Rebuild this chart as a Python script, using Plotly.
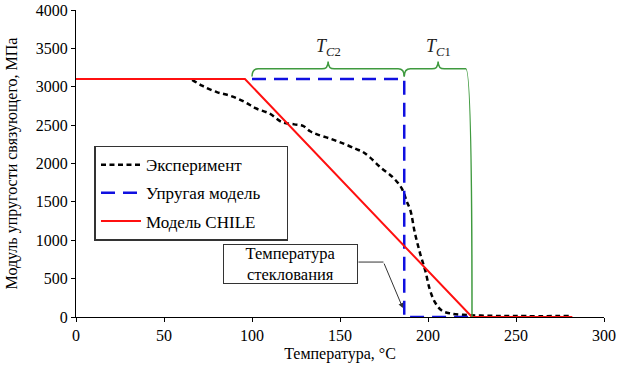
import plotly.graph_objects as go

exp_x = [66, 72, 80, 88, 96, 102, 110, 117, 124, 129, 133, 137, 145, 153, 159, 163, 167,
         173, 180, 185, 188, 190, 192.5, 195.5, 198.5, 201, 204, 208, 213, 220, 230, 250, 282]
exp_y = [3090, 3010, 2930, 2880, 2800, 2720, 2650, 2540, 2510, 2490, 2420, 2380, 2320, 2250,
         2190, 2150, 2080, 1950, 1820, 1680, 1500, 1390, 1100, 830, 600, 360, 190, 80, 45, 28,
         18, 12, 12]

# Elastic model
el_x = [100, 186.5, 186.5, 225]
el_y = [3100, 3100, 0, 0]

# CHILE model
ch_x = [0, 96, 225, 282]
ch_y = [3100, 3100, 0, 0]

# Brace positions (T_C2, T_C1)
tc2 = [100, 186.5]
tc1 = [186.5, 225]

FONT = "Liberation Serif"
GREEN = "#3f9a3f"
PAD = "\u00a0" * 5  # extra room at the right of the legend box

fig = go.Figure()
fig.add_trace(go.Scatter(x=exp_x, y=exp_y, mode="lines", name="Эксперимент",
                         legendgroup="a", line=dict(color="black", width=2.5, dash="5px,3.5px"),
                         line_shape="spline"))
fig.add_trace(go.Scatter(x=el_x, y=el_y, mode="lines", name="Упругая модель" + PAD,
                         legendgroup="b", line=dict(color="#1010e0", width=2.5, dash="14px,8px")))
fig.add_trace(go.Scatter(x=ch_x, y=ch_y, mode="lines", name="Модель CHILE",
                         legendgroup="c", line=dict(color="#ff1010", width=2)))

yb, ye, yt = 3233, 3133, 3330
r = 3.5
def brace(x1, x2, yend_left, yend_right):
    xm = (x1 + x2) / 2
    return (f"M {x1},{yend_left} Q {x1},{yb} {x1+r},{yb} L {xm-r},{yb} "
            f"Q {xm},{yb} {xm},{yt} Q {xm},{yb} {xm+r},{yb} L {x2-r},{yb} "
            f"Q {x2},{yb} {x2},{yend_right}")

shapes = [
    dict(type="path", xref="x", yref="y", path=brace(tc2[0], tc2[1], ye, ye),
         line=dict(color=GREEN, width=1.5)),
    dict(type="path", xref="x", yref="y", path=brace(tc1[0], tc1[1], ye, 0),
         line=dict(color=GREEN, width=1.5)),
    dict(type="line", xref="x", yref="y", x0=160.5, y0=716, x1=174.7, y1=716,
         line=dict(color="#333", width=1)),
]

annotations = [
    dict(x=sum(tc2) / 2, y=3330, xref="x", yref="y", yanchor="bottom", showarrow=False,
         text="<i>T</i><sub><i>C</i>2</sub>", font=dict(family=FONT, size=18, color="#222")),
    dict(x=sum(tc1) / 2, y=3330, xref="x", yref="y", yanchor="bottom", showarrow=False,
         text="<i>T</i><sub><i>C</i>1</sub>", font=dict(family=FONT, size=18, color="#222")),
    dict(x=122.1, y=694, xref="x", yref="y", showarrow=False,
         text="Температура<br>стеклования", width=131, height=36,
         bordercolor="#333", borderwidth=1, bgcolor="white",
         font=dict(family=FONT, size=16.5, color="black")),
    dict(x=185.7, y=117, xref="x", yref="y", ax=174.7, ay=716, axref="x", ayref="y",
         text="", showarrow=True, arrowhead=2, arrowsize=1, arrowwidth=1, arrowcolor="#333"),
]

fig.update_layout(
    width=624, height=373,
    margin=dict(l=76, r=20, t=10, b=56, autoexpand=False),
    paper_bgcolor="white", plot_bgcolor="white",
    font=dict(family=FONT, size=16, color="black"),
    showlegend=True,
    legend=dict(x=0.035, y=0.558, xanchor="left", yanchor="top",
                bordercolor="#333", borderwidth=1.5, bgcolor="white",
                font=dict(family=FONT, size=17), traceorder="grouped",
                tracegroupgap=3, itemwidth=40),
    shapes=shapes, annotations=annotations,
)
fig.update_xaxes(range=[0, 300], dtick=50, showgrid=False, zeroline=False, automargin=False,
                 showline=True, linecolor="black", linewidth=1,
                 ticks="outside", ticklen=4, tickcolor="black",
                 tickfont=dict(family=FONT, size=16),
                 title=dict(text="Температура, °C", font=dict(family=FONT, size=16), standoff=4))
fig.update_yaxes(range=[0, 4000], dtick=500, showgrid=False, zeroline=False, automargin=False,
                 showline=True, linecolor="black", linewidth=1,
                 ticks="outside", ticklen=4, tickcolor="black",
                 tickfont=dict(family=FONT, size=16),
                 title=dict(text="Модуль упругости связующего, МПа", font=dict(family=FONT, size=16), standoff=14))

fig.write_html("out.html", config={"displayModeBar": False},
               post_script="document.body.style.margin='0px';")
